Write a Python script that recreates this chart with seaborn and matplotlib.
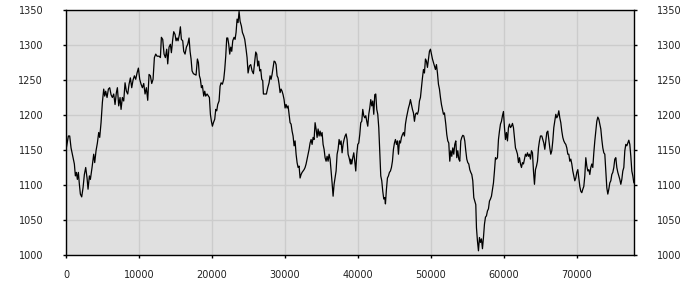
import matplotlib
matplotlib.use("Agg")
import matplotlib.pyplot as plt
import seaborn as sns
import numpy as np
import pandas as pd

# ---- data ----
seg1_x = [0, 324, 507, 690, 964, 1146, 1283, 1420, 1557, 1694, 1831, 1968, 2151, 2334, 2516, 2699, 2882, 3019,
          3202, 3339, 3567, 3795, 3932, 4115, 4298, 4480, 4617, 4800, 4983, 5165, 5302, 5439, 5622, 5805, 5987,
          6170, 6353, 6535, 6718, 6901, 7038, 7221, 7403, 7540, 7723, 7906, 8088, 8271, 8454, 8636, 8819, 9002,
          9184, 9367, 9550, 9732, 9915, 10098, 10280, 10463, 10646, 10828, 11011, 11194, 11376, 11559, 11742,
          11924, 12107, 12290, 12473, 12747, 12930]
seg1_y = [1150, 1170, 1170, 1153, 1139, 1130, 1113, 1118, 1108, 1118, 1101, 1087, 1083, 1096, 1115, 1125, 1110, 1094,
          1113, 1108, 1125, 1144, 1132, 1149, 1160, 1175, 1168, 1189, 1218, 1237, 1227, 1234, 1225, 1237, 1239,
          1229, 1225, 1230, 1215, 1232, 1239, 1213, 1225, 1208, 1225, 1220, 1246, 1234, 1230, 1244, 1253, 1239,
          1250, 1256, 1251, 1260, 1267, 1251, 1244, 1239, 1245, 1230, 1239, 1221, 1258, 1256, 1245,
          1251, 1282, 1287, 1284, 1284, 1282]

seg2_x = [13065, 13248, 13431, 13613, 13796, 13933, 14116, 14298, 14435, 14618, 14755, 14938, 15075, 15212, 15349,
          15531, 15668, 15805, 15988, 16125, 16308, 16490, 16673, 16856, 16993, 17130, 17267, 17450, 17632, 17815,
          17998, 18135, 18272, 18409, 18546, 18683, 18865, 19002, 19139, 19322, 19505, 19642, 19779, 19916, 20053,
          20190, 20372, 20509, 20646, 20783, 20966, 21103, 21240, 21422, 21605, 21742, 21879, 22016, 22153, 22290,
          22427, 22565, 22702, 22839, 23021, 23158, 23295, 23432, 23569, 23706, 23843, 24026, 24163, 24346, 24483,
          24665, 24802, 24939, 25122, 25305, 25488, 25670]
seg2_y = [1311, 1308, 1287, 1282, 1294, 1273, 1297, 1301, 1289, 1308, 1319, 1315, 1306, 1310, 1306,
          1315, 1326, 1308, 1306, 1291, 1287, 1297, 1301, 1310, 1291, 1280, 1263, 1259, 1258, 1257,
          1280, 1275, 1256, 1251, 1239, 1242, 1227, 1234, 1227, 1230, 1227, 1225, 1201, 1191, 1184,
          1189, 1194, 1208, 1206, 1215, 1220, 1241, 1246, 1244, 1251, 1265, 1284, 1310, 1310, 1301,
          1287, 1297, 1291, 1306, 1311, 1308, 1318, 1337, 1332, 1348, 1334, 1327, 1318, 1313, 1308,
          1294, 1282, 1260, 1270, 1272, 1263, 1259]

seg3_x = [25852, 25989, 26126, 26263, 26400, 26537, 26674, 26811, 26948, 27039, 27222, 27450, 27633, 27816, 27953,
          28090, 28227, 28364, 28501, 28638, 28775, 28912, 29049, 29186, 29323, 29460, 29597, 29734, 29871, 30008,
          30145, 30282, 30419, 30556, 30693, 30830, 30967, 31104, 31241, 31378, 31515, 31652, 31789, 31926, 32063,
          32200, 32337, 32474, 32611, 32748, 32885, 33022, 33159, 33296, 33433, 33570, 33707, 33844, 33981, 34118,
          34255, 34392, 34529, 34666, 34803, 34940, 35077, 35214, 35351, 35488, 35625, 35762, 35899, 36036, 36173,
          36310, 36447, 36584, 36721, 36858, 36995, 37132, 37269, 37406, 37543, 37680, 37817, 37954, 38091, 38228,
          38365, 38502, 38639, 38776, 38959]
seg3_y = [1277, 1290, 1287, 1270, 1277, 1263, 1265, 1251, 1249, 1230, 1230, 1230, 1239, 1246, 1256,
          1251, 1258, 1268, 1277, 1276, 1272, 1256, 1253, 1244, 1232, 1237, 1234, 1229, 1222, 1210,
          1215, 1210, 1213, 1201, 1189, 1187, 1177, 1170, 1156, 1163, 1144, 1132, 1125, 1127, 1110,
          1115, 1118, 1120, 1122, 1125, 1130, 1137, 1144, 1151, 1160, 1165, 1158, 1168, 1165, 1189,
          1180, 1168, 1180, 1170, 1177, 1170, 1175, 1158, 1151, 1139, 1134, 1141, 1134, 1144, 1137,
          1120, 1103, 1084, 1101, 1110, 1120, 1144, 1151, 1165, 1158, 1163, 1146, 1158, 1165, 1170,
          1173, 1165, 1144, 1139, 1130]

seg4_x = [39004, 39141, 39278, 39415, 39552, 39689, 39826, 39963, 40100, 40237, 40374, 40511, 40648, 40785, 40922,
          41059, 41196, 41333, 41470, 41607, 41744, 41881, 42018, 42155, 42292, 42429, 42566, 42703, 42840, 42977,
          43114, 43251, 43388, 43525, 43662, 43754, 43891, 44028, 44165, 44302, 44439, 44576, 44713, 44850, 44987,
          45124, 45261, 45398, 45535, 45672, 45809, 45946, 46083, 46220, 46357, 46494, 46631, 46768, 46905, 47042,
          47179, 47316, 47453, 47590, 47727, 47864, 48001, 48138, 48275, 48412, 48549, 48686, 48823, 48960, 49097,
          49234, 49371, 49508, 49645, 49782, 49919, 50056, 50193, 50330, 50467, 50604, 50741, 50878, 51015, 51152,
          51289, 51426, 51563, 51700, 51837]
seg4_y = [1137, 1130, 1139, 1146, 1134, 1120, 1144, 1158, 1160, 1172, 1189, 1191, 1208, 1199, 1196,
          1199, 1191, 1184, 1201, 1210, 1222, 1213, 1220, 1201, 1229, 1230, 1208, 1201, 1182, 1149,
          1113, 1106, 1091, 1080, 1082, 1073, 1094, 1110, 1113, 1118, 1120, 1125, 1134, 1151, 1160,
          1165, 1158, 1163, 1144, 1163, 1160, 1168, 1172, 1175, 1170, 1187, 1196, 1203, 1210, 1215,
          1222, 1215, 1208, 1203, 1191, 1201, 1203, 1201, 1206, 1220, 1225, 1239, 1253, 1265, 1260,
          1280, 1277, 1268, 1280, 1291, 1294, 1287, 1280, 1275, 1270, 1265, 1272, 1260, 1244, 1237,
          1225, 1215, 1208, 1201, 1203]

seg5_x = [52019, 52156, 52293, 52430, 52567, 52704, 52841, 52978, 53115, 53252, 53389, 53526, 53663, 53800, 53937,
          54074, 54211, 54348, 54485, 54622, 54759, 54896, 55033, 55170, 55307, 55444, 55581, 55718, 55855, 55992,
          56129, 56221, 56358, 56495, 56632, 56769, 56906, 57043, 57180, 57317, 57454, 57591, 57728, 57865, 58002,
          58139, 58276, 58413, 58550, 58687, 58824, 58961, 59098, 59235, 59372, 59509, 59646, 59783, 59920, 60057,
          60194, 60331, 60468, 60605, 60742, 60879, 61016, 61153, 61290, 61427, 61564, 61701, 61838, 61975, 62112,
          62249, 62386, 62523, 62660, 62797, 62934, 63071, 63208, 63345, 63482, 63619, 63756, 63893, 64030, 64167,
          64304, 64441, 64578, 64715, 64852, 64989]
seg5_y = [1187, 1172, 1163, 1160, 1134, 1149, 1141, 1153, 1144, 1158, 1163, 1139, 1149, 1137, 1134,
          1163, 1168, 1171, 1170, 1163, 1149, 1137, 1132, 1130, 1122, 1118, 1115, 1106, 1082, 1077,
          1072, 1039, 1020, 1006, 1025, 1018, 1023, 1009, 1025, 1044, 1054, 1056, 1063, 1066, 1077,
          1080, 1084, 1094, 1103, 1120, 1139, 1137, 1139, 1165, 1177, 1187, 1191, 1199, 1205, 1182,
          1165, 1175, 1163, 1182, 1187, 1182, 1184, 1188, 1182, 1168, 1153, 1149, 1144, 1132, 1139,
          1130, 1125, 1132, 1130, 1137, 1144, 1141, 1146, 1141, 1144, 1137, 1149, 1146, 1120, 1101,
          1122, 1127, 1134, 1153, 1163, 1170]

seg6_x = [65171, 65308, 65445, 65582, 65719, 65856, 65993, 66130, 66267, 66404, 66541, 66678, 66815, 66952, 67089,
          67226, 67363, 67500, 67637, 67774, 67911, 68048, 68185, 68322, 68459, 68596, 68733, 68870, 69007, 69144,
          69281, 69418, 69555, 69692, 69829, 69966, 70103, 70240, 70377, 70514, 70651, 70788, 70925, 71062, 71199,
          71336, 71473, 71610, 71747, 71884, 72021, 72158, 72295, 72432, 72569, 72706, 72843, 72980, 73117, 73254,
          73391, 73528, 73665, 73802, 73939, 74076, 74213, 74350, 74487, 74624, 74761, 74898, 75035, 75172, 75309,
          75446, 75583, 75720, 75857, 75994, 76131, 76268, 76405, 76542, 76679, 76816, 76953, 77090, 77227, 77364,
          77501, 77638, 77780]
seg6_y = [1170, 1165, 1160, 1151, 1163, 1175, 1177, 1165, 1153, 1144, 1149, 1163, 1182, 1191, 1201,
          1196, 1199, 1206, 1196, 1189, 1177, 1168, 1163, 1160, 1158, 1153, 1144, 1144, 1134, 1137,
          1130, 1120, 1113, 1106, 1110, 1118, 1122, 1110, 1098, 1091, 1089, 1094, 1098, 1113, 1139,
          1127, 1120, 1122, 1115, 1125, 1130, 1125, 1146, 1163, 1177, 1191, 1197, 1194, 1187, 1180,
          1165, 1153, 1146, 1144, 1120, 1096, 1087, 1094, 1103, 1106, 1115, 1118, 1125, 1137, 1139,
          1125, 1118, 1113, 1108, 1101, 1108, 1120, 1125, 1149, 1158, 1156, 1160, 1164, 1158, 1141,
          1120, 1113, 1103]

x_ticks = [0, 10000, 20000, 30000, 40000, 50000, 60000, 70000]
y_ticks = [1000, 1050, 1100, 1150, 1200, 1250, 1300, 1350]

xs = seg1_x + seg2_x + seg3_x + seg4_x + seg5_x + seg6_x
ys = seg1_y + seg2_y + seg3_y + seg4_y + seg5_y + seg6_y
df = pd.DataFrame({"x": xs, "y": ys})

sns.set_style("white")
plt.rcParams["font.family"] = ["DejaVu Sans"]

fig = plt.figure(figsize=(7, 3), dpi=100)
ax = fig.add_axes([66 / 700, 45 / 300, 568 / 700, 245 / 300])
ax.set_facecolor("#e0e0e0")

sns.lineplot(data=df, x="x", y="y", ax=ax, color="black", linewidth=0.9,
             estimator=None, sort=False)

ax.set_xlim(0, 77800)
ax.set_ylim(1000, 1350)
ax.set_xticks(x_ticks)
ax.set_xticklabels([str(t) for t in x_ticks])
ax.set_yticks(y_ticks)
ax.set_yticklabels([str(t) for t in y_ticks])
ax.set_xlabel("")
ax.set_ylabel("")

ax.grid(True, color="#cccccc", linewidth=1)
ax.set_axisbelow(True)
for s in ax.spines.values():
    s.set_visible(True)
    s.set_color("black")
    s.set_linewidth(1)

ax.tick_params(axis="both", direction="out", length=2.5, width=1, color="black",
               labelsize=7, labelcolor="#222222")
ax.tick_params(axis="y", left=True, right=True, labelleft=True, labelright=True, pad=14)
ax.tick_params(axis="x", bottom=True, pad=8)

fig.savefig("out.png", dpi=100)
